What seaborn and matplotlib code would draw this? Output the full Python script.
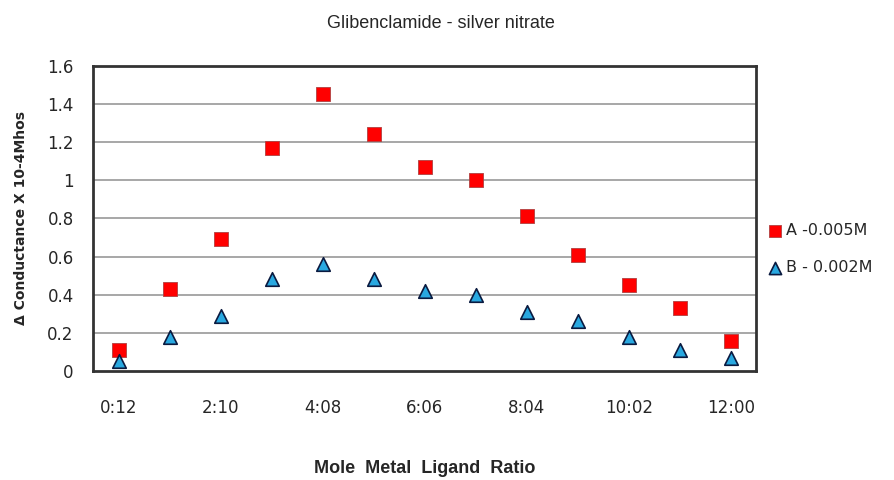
import matplotlib
matplotlib.use("Agg")
import matplotlib.pyplot as plt
import seaborn as sns
import pandas as pd

ratios = ["0:12", "1:11", "2:10", "3:09", "4:08", "5:07", "6:06",
          "7:05", "8:04", "9:03", "10:02", "11:01", "12:00"]
series_a = [0.11, 0.43, 0.69, 1.17, 1.45, 1.24, 1.07, 1.00, 0.81, 0.61, 0.45, 0.33, 0.16]
series_b = [0.05, 0.18, 0.29, 0.48, 0.56, 0.48, 0.42, 0.40, 0.31, 0.26, 0.18, 0.11, 0.07]
label_a = "A -0.005M"
label_b = "B - 0.002M"
y_ticks = [0, 0.2, 0.4, 0.6, 0.8, 1, 1.2, 1.4, 1.6]
y_tick_labels = ["0", "0.2", "0.4", "0.6", "0.8", "1", "1.2", "1.4", "1.6"]

df = pd.DataFrame({
    "pos": list(range(len(ratios))) * 2,
    "value": series_a + series_b,
    "series": [label_a] * len(ratios) + [label_b] * len(ratios),
})

sns.set_style("white")
plt.rcParams["font.family"] = ["DejaVu Sans"]

fig = plt.figure(figsize=(8.95, 4.8), dpi=100)
ax = fig.add_axes([0.104, 0.227, 0.741, 0.636])

for y in y_ticks[1:-1]:
    ax.axhline(y, color="#a0a0a0", lw=1.3, zorder=0)

sns.scatterplot(data=df[df.series == label_a], x="pos", y="value", marker="s",
                s=95, color="#ff0000", edgecolor="#b04040", linewidth=0.6,
                ax=ax, label=label_a, zorder=3)
sns.scatterplot(data=df[df.series == label_b], x="pos", y="value", marker="^",
                s=95, color="#29a8e0", edgecolor="#0a1a40", linewidth=1.2,
                ax=ax, label=label_b, zorder=3)

ax.set_xlim(-0.5, 12.5)
ax.set_ylim(0, 1.6)
ax.set_xticks(range(0, len(ratios), 2))
ax.set_xticklabels(ratios[::2])
ax.set_yticks(y_ticks)
ax.set_yticklabels(y_tick_labels)
ax.tick_params(axis="both", length=0, labelsize=12)
ax.tick_params(axis="x", pad=20)
ax.tick_params(axis="y", pad=14)

for s in ax.spines.values():
    s.set_color("#333333")
    s.set_linewidth(2)

ax.set_xlabel("Mole  Metal  Ligand  Ratio", fontsize=13, fontweight="bold",
              family="Liberation Sans", labelpad=31)
ax.set_ylabel("Δ Conductance X 10-4Mhos", fontsize=10, fontweight="bold", labelpad=14)
fig.text(0.493, 0.952, "Glibenclamide - silver nitrate", ha="center", va="center",
         fontsize=13, family="Liberation Sans")

ax.legend(loc="center left", bbox_to_anchor=(1.004, 0.40), frameon=False,
          fontsize=11.5, labelspacing=1.4, handletextpad=0.1, handlelength=1.2,
          borderaxespad=0, markerscale=0.9)

fig.savefig("out.png", dpi=100)
